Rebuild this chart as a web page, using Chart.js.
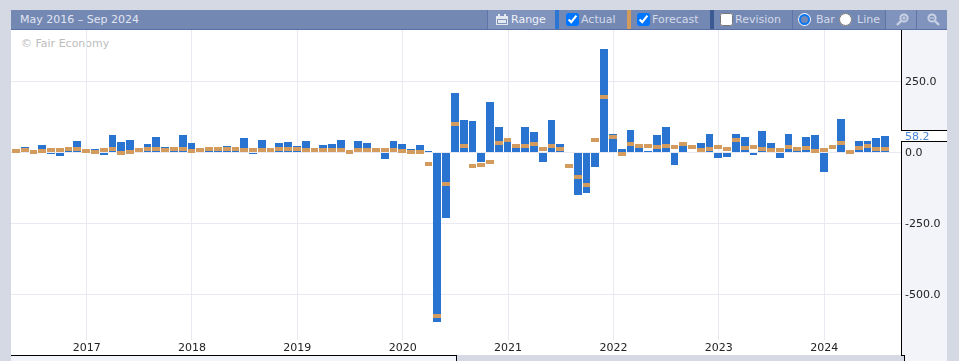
<!DOCTYPE html>
<html>
<head>
<meta charset="utf-8">
<title>May 2016 – Sep 2024</title>
<script src="https://cdn.jsdelivr.net/npm/chart.js@4/dist/chart.umd.min.js"></script>
<style>
  html, body { margin: 0; padding: 0; width: 959px; height: 361px; overflow: hidden; background: #d5d9e3; }
  body { position: relative; font-family: "DejaVu Sans", sans-serif; font-size: 11px; }
  #header { position: absolute; left: 11px; top: 10px; width: 936px; height: 19px; background: #7488b4; border-bottom: 1px solid #5a70a4; }
  #header .t, #header .box, #header .mark, #header .sep, #header svg, #header .btn { position: absolute; }
  #header .t { top: 3px; line-height: 13px; color: #d3dae8; white-space: nowrap; }
  #header .btn { top: 0; height: 19px; background: #8093bd; }
  #header .sep { top: 0; width: 1px; height: 19px; background: #5f75a8; }
  #header .mark { top: 0; width: 4px; height: 19px; }
  #header .box { top: 3px; width: 13px; height: 13px; margin: 0; }
  #header .on { appearance: none; box-sizing: border-box; top: 4px; width: 11px; height: 11px; border: 2.5px solid #0b76f2; border-radius: 50%; background: #7488b4; box-shadow: 0 0 0 1px #f0f3f9; }
  #plot { position: absolute; left: 11px; top: 30px; width: 890px; height: 325px; background: #fff; }
  #side { position: absolute; left: 901px; top: 30px; width: 45px; height: 331px; background: #f3f4f9; border-left: 1px solid #000; }
  #scroll { position: absolute; left: 11px; top: 355px; width: 446px; height: 6px; background: #f3f4f9; border-top: 1px solid #000; border-right: 1px solid #000; box-sizing: border-box; }
  #strip { position: absolute; left: 457px; top: 355px; width: 447px; height: 6px; background: #d5d9e3; }
  #edge { position: absolute; left: 904px; top: 355px; width: 1px; height: 6px; background: #000; }
  #edgeTop { position: absolute; left: 901px; top: 355px; width: 4px; height: 1px; background: #000; }
  #mark { position: absolute; left: 21px; top: 37px; line-height: 13px; color: #bdbdbd; white-space: nowrap; }
  canvas { position: absolute; left: 11px; top: 30px; }
</style>
</head>
<body>
<div id="header">
  <span class="t" style="left:9px;color:#e0e5ef">May 2016 – Sep 2024</span>
  <div class="btn" style="left:476px;width:68px"></div>
  <div class="sep" style="left:476px"></div>
  <svg style="left:485px;top:4px" width="12" height="11" viewBox="0 0 12 11"><path d="M0 2h2V0h2v2h4V0h2v2h2v9H0z M1 5v5h10V5z" fill="#e4e8f1"/><rect x="2" y="6" width="8" height="3" fill="#e4e8f1"/></svg>
  <span class="t" style="left:500px;color:#eef1f7">Range</span>
  <div class="mark" style="left:544px;background:#2a76d2"></div>
  <input class="box" type="checkbox" checked style="left:555px">
  <span class="t" style="left:570px">Actual</span>
  <div class="mark" style="left:616px;background:#d29a5b"></div>
  <input class="box" type="checkbox" checked style="left:626px">
  <span class="t" style="left:641px">Forecast</span>
  <div class="mark" style="left:699px;background:#3b5a94"></div>
  <input class="box" type="checkbox" style="left:709px">
  <span class="t" style="left:724px">Revision</span>
  <div class="sep" style="left:781px"></div>
  <input class="box on" type="radio" name="kind" checked style="left:788px">
  <span class="t" style="left:805px">Bar</span>
  <input class="box" type="radio" style="left:828px">
  <span class="t" style="left:846px">Line</span>
  <div class="btn" style="left:874px;width:62px"></div>
  <div class="sep" style="left:874px"></div>
  <div class="sep" style="left:905px"></div>
  <svg style="left:885px;top:3px" width="13" height="13" viewBox="0 0 13 13"><circle cx="8" cy="5" r="3.6" fill="none" stroke="#c9d2e4" stroke-width="2"/><path d="M5 8L1 12" stroke="#c9d2e4" stroke-width="2.4"/><path d="M6 5h4M8 3v4" stroke="#c9d2e4" stroke-width="1.2"/></svg>
  <svg style="left:916px;top:3px" width="13" height="13" viewBox="0 0 13 13"><circle cx="5" cy="5" r="3.6" fill="none" stroke="#c9d2e4" stroke-width="2"/><path d="M8 8L12 12" stroke="#c9d2e4" stroke-width="2.4"/><path d="M3 5h4" stroke="#c9d2e4" stroke-width="1.2"/></svg>
</div>
<div id="plot"></div>
<div id="side"></div>
<div id="scroll"></div>
<div id="strip"></div>
<div id="edge"></div>
<div id="edgeTop"></div>
<div id="mark">© Fair Economy</div>
<canvas id="chart" width="936" height="325"></canvas>
<script>
  // May 2016 .. Aug 2024, one value per month
  const actual = [
    5, 19, 2, 26, -5, -12, 8, 40,
    5, 12, -9, 61, 37, 44, 5, 30, 54, 19, 10, 61, 33, 3, 8, 8,
    23, 8, 51, -5, 44, 3, 33, 37, 23, 40, 3, 26,
    30, 44, 0, 40, 33, 3, -23, 40, 30, 12, 26, 5,
    -595, -230, 209, 114, 110, -33, 177, 90, 37, 16, 90, 72,
    -33, 114, 30, -3, -149, -142, -51, 363, 65, 12, 79, 16,
    5, 61, 90, -44, 23, 2, 33, 65, -19, -16, 65, 54,
    -9, 75, 33, -19, 65, 5, 54, 61, -68, 2, 118, -7,
    40, 40, 51, 58.2,
  ];
  const forecast = [
    5, 9, 2, 5, 9, 9, 12, 12,
    5, 2, 9, 12, -2, 2, 9, 12, 12, 9, 12, 12, 5, 9, 12, 12,
    12, 12, 9, 9, 9, 9, 12, 12, 12, 9, 9, 9,
    9, 9, 2, 9, 9, 9, 9, 9, 5, 2, 2, -40,
    -577, -110, 100, 23, -47, -44, -33, 33, 44, 23, 23, 30,
    12, 23, 12, -47, -86, -114, 44, 195, 54, -5, 30, 23,
    23, 19, 23, 19, 30, 19, 9, 12, 19, 12, 44, 16,
    19, 12, 9, 9, 19, 12, 16, 5, 9, 19, 33, 2,
    16, 23, 12, 12,
  ];
  const yearLabels = ["2017", "2018", "2019", "2020", "2021", "2022", "2023", "2024"];
  const yearIndexes = [8, 20, 32, 44, 56, 68, 80, 92];
  const yTicks = [250, 0, -250, -500];

  const forecastHalf = 7;
  const lastValue = actual[actual.length - 1];

  // snap bars to whole pixels, leaves the 1px gap between months
  const snapBars = {
    id: "snapBars",
    beforeDatasetsDraw(chart) {
      chart.data.datasets.forEach((ds, d) => {
        const meta = chart.getDatasetMeta(d);
        const step = chart.scales.x.getPixelForValue(1) - chart.scales.x.getPixelForValue(0);
        meta.data.forEach((bar) => {
          const left = Math.round(bar.x - step / 2);
          const right = Math.round(bar.x + step / 2) - 1;
          bar.x = (left + right) / 2;
          bar.width = right - left;
          bar.y = Math.round(bar.y);
          bar.base = Math.round(bar.base);
        });
      });
    },
  };

  // box with the latest value on the price axis
  const lastValueBox = {
    id: "lastValueBox",
    afterDraw(chart) {
      const { ctx, scales } = chart;
      const y = Math.round(scales.y.getPixelForValue(lastValue));
      const left = scales.y.left;
      ctx.save();
      ctx.fillStyle = "#fff";
      ctx.fillRect(left, y - 6, 46, 11);
      ctx.fillStyle = "#000";
      ctx.fillRect(left, y - 6, 46, 1);
      ctx.fillRect(left, y + 5, 46, 1);
      ctx.fillStyle = "#4a86d8";
      ctx.font = '11px "DejaVu Sans"';
      ctx.textBaseline = "middle";
      ctx.fillText(lastValue.toFixed(1), left + 4, y + 1);
      ctx.restore();
    },
  };

  new Chart(document.getElementById("chart"), {
    type: "bar",
    data: {
      datasets: [
        {
          label: "Actual",
          data: actual.map((v, i) => ({ x: i, y: v })),
          backgroundColor: "#2874d0",
          barThickness: 8,
          inflateAmount: 0,
          grouped: false,
          order: 2,
        },
        {
          label: "Forecast",
          data: forecast.map((v, i) => ({ x: i, y: [v - forecastHalf, v + forecastHalf] })),
          backgroundColor: "#d39b5e",
          barThickness: 8,
          inflateAmount: 0,
          grouped: false,
          order: 1,
        },
      ],
    },
    options: {
      responsive: false,
      animation: false,
      layout: { padding: 0 },
      plugins: { legend: { display: false }, tooltip: { enabled: false } },
      scales: {
        x: {
          type: "linear",
          offset: false,
          min: -0.614,
          max: 100.75,
          grid: { color: "#e8e9f1", drawTicks: false, offset: false },
          border: { display: false },
          afterBuildTicks: (scale) => {
            scale.ticks = yearIndexes.map((value) => ({ value }));
          },
          afterFit: (scale) => {
            scale.height = 15;
            scale.paddingLeft = 0;
            scale.paddingRight = 0;
          },
          ticks: {
            autoSkip: false,
            maxRotation: 0,
            padding: 2,
            color: "#222",
            font: { family: "DejaVu Sans", size: 11 },
            callback: (value) => yearLabels[yearIndexes.indexOf(value)],
          },
        },
        y: {
          position: "right",
          min: -660,
          max: 430,
          grid: { color: "#e8e9f1", drawTicks: false },
          border: { display: false },
          afterBuildTicks: (scale) => {
            scale.ticks = yTicks.map((value) => ({ value }));
          },
          afterFit: (scale) => {
            scale.width = 46;
            scale.paddingTop = 0;
            scale.paddingBottom = 0;
          },
          ticks: {
            padding: 4,
            labelOffset: 1,
            color: "#222",
            font: { family: "DejaVu Sans", size: 11 },
            callback: (value) => value.toFixed(1),
          },
        },
      },
    },
    plugins: [snapBars, lastValueBox],
  });
</script>
</body>
</html>
